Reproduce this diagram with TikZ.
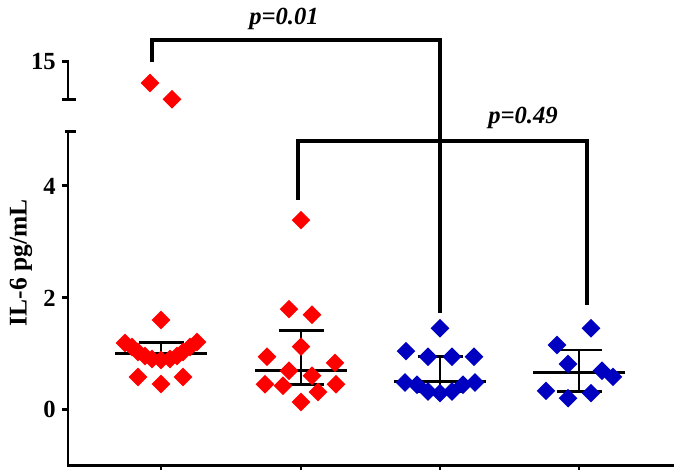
\documentclass[tikz,border=0pt]{standalone}
\usepackage{fontspec}
\setmainfont{Liberation Serif}
\usetikzlibrary{shapes.geometric}
\definecolor{grpred}{RGB}{255,0,0}
\definecolor{grpblue}{RGB}{0,0,192}
\tikzset{
  datapt/.style={diamond,fill=#1,inner sep=0pt,minimum size=0.38cm},
  axline/.style={line width=1.7pt},
  errbar/.style={line width=1.7pt},
  sigbar/.style={line width=2.3pt},
  lbl/.style={font=\fontsize{14}{16}\selectfont\bfseries,inner sep=0pt}
}
\begin{document}
\begin{tikzpicture}[x=0.02cm,y=1.12cm]
            \useasboundingbox (0,-1.0714) rectangle (674,7.3214);
            % broken y axis and x axis
            \draw[axline] (65,4.964) -- (76,4.964);
            \draw[axline] (68,4.964) -- (68,-1) -- (674,-1);
            \draw[axline] (62,6.214) -- (68,6.214) -- (68,5.536);
            \draw[axline] (62,5.536) -- (76,5.536);
            \foreach \v in {0,2,4} {
                \draw[axline] (62,\v) -- (68,\v);
                \node[lbl,anchor=east] (tick\v) at (56,\v) {\v};
            }
            \node[lbl,anchor=east] (tick15) at (56,6.214) {15};
            \foreach \x in {161,301,440,579} \draw[axline] (\x,-1) -- (\x,-1.08);
            \node[lbl,font=\fontsize{14.5}{16}\selectfont\bfseries,rotate=90] (ylab) at (21,2.625) {IL-6 pg/mL};
            % medians and ranges
            \foreach \x/\m/\lo/\hi in {161/1.00/0.92/1.20, 301/0.70/0.45/1.42, 440/0.50/0.33/0.95, 579/0.66/0.32/1.07} {
                \draw[errbar] (\x-46,\m) -- (\x+46,\m);
                \draw[errbar] (\x,\lo) -- (\x,\hi);
                \draw[errbar] (\x-22.5,\hi) -- (\x+22.5,\hi);
                \draw[errbar] (\x-22.5,\lo) -- (\x+22.5,\lo);
            }
            % data points
            \foreach \x/\v [count=\i] in {150/5.84, 172/5.55, 161/1.607, 125/1.196, 132/1.125, 138/1.036, 145/0.964, 152/0.911, 161/0.893, 170/0.911, 177/0.964, 183/1.036, 190/1.125, 197/1.214, 138/0.589, 161/0.464, 183/0.589}
                \node[datapt=grpred] (ga\i) at (\x,\v) {};
            \foreach \x/\v [count=\i] in {301/3.39, 289/1.80, 312/1.70, 301/1.13, 267/0.95, 335/0.84, 289/0.70, 312/0.61, 265/0.46, 283/0.43, 336/0.46, 318/0.32, 301/0.14}
                \node[datapt=grpred] (gb\i) at (\x,\v) {};
            \foreach \x/\v [count=\i] in {440/1.46, 406/1.05, 428/0.95, 452/0.95, 474/0.95, 405/0.49, 417/0.45, 428/0.33, 440/0.30, 452/0.33, 463/0.45, 475/0.49}
                \node[datapt=grpblue] (gc\i) at (\x,\v) {};
            \foreach \x/\v [count=\i] in {591/1.46, 557/1.16, 568/0.82, 602/0.70, 613/0.59, 546/0.34, 568/0.21, 591/0.30}
                \node[datapt=grpblue] (gd\i) at (\x,\v) {};
            % significance brackets
            \coordinate (sa1) at (152,6.214);
            \coordinate (sa2) at (440,1.732);
            \coordinate (sb1) at (298,3.75);
            \coordinate (sb2) at (587,1.875);
            \draw[sigbar] (sa1) -- (sa1 |- 0,6.607) -- (sa2 |- 0,6.607) -- (sa2);
            \draw[sigbar] (sb1) -- (sb1 |- 0,4.804) -- (sb2 |- 0,4.804) -- (sb2);
            \node[lbl,font=\fontsize{14}{16}\selectfont\bfseries\itshape] (pa) at (284,6.98) {p=0.01};
            \node[lbl,font=\fontsize{14}{16}\selectfont\bfseries\itshape] (pb) at (523,5.21) {p=0.49};
        \end{tikzpicture}
\end{document}
